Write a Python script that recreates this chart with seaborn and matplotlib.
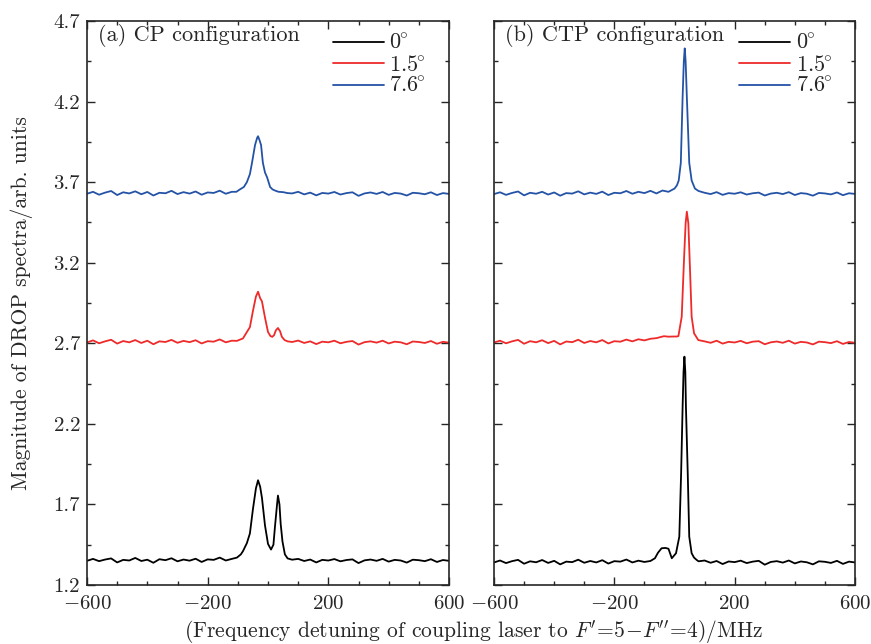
"""
DROP spectra for CP and CTP configurations at three angles
"""
import numpy as np
import pandas as pd
import matplotlib
matplotlib.use('Agg')
import matplotlib.pyplot as plt
import seaborn as sns
from matplotlib.ticker import FixedLocator, MultipleLocator, FormatStrFormatter
from matplotlib.lines import Line2D

sns.set_style('ticks')
plt.rcParams['font.family'] = ['cmr10', 'DejaVu Serif']
plt.rcParams['mathtext.fontset'] = 'cm'
plt.rcParams['axes.formatter.use_mathtext'] = True
plt.rcParams['axes.unicode_minus'] = True

angles = ['$0^{\\!\\!\\circ}$', '$1.5^{\\!\\!\\circ}$', '$7.6^{\\!\\!\\circ}$']
colors = ['#000000', '#ee2a2a', '#2453a6']

# ---------- (a) CP configuration ----------
cp_left_x = list(range(-600, -119, 20))
cp_right_x = list(range(80, 601, 20))

cp0_left = [1.350, 1.362, 1.348, 1.358, 1.365, 1.340, 1.356, 1.352, 1.368, 1.349, 1.357, 1.338, 1.360,
            1.354, 1.366, 1.347, 1.358, 1.351, 1.363, 1.343, 1.359, 1.356, 1.370, 1.352, 1.362]
cp0_peak_x = [-103, -90, -83, -70, -60, -50, -40, -33, -26, -20, -10, 0, 10, 18, 23, 30, 33, 38, 42, 48, 56, 65]
cp0_peak_y = [1.37, 1.39, 1.41, 1.46, 1.52, 1.67, 1.80, 1.85, 1.81, 1.74, 1.57, 1.455, 1.42, 1.45, 1.56,
              1.70, 1.755, 1.70, 1.58, 1.47, 1.39, 1.365]
cp0_right = [1.357, 1.362, 1.349, 1.358, 1.340, 1.356, 1.352, 1.361, 1.347, 1.355, 1.359, 1.336, 1.353, 1.358,
             1.350, 1.362, 1.345, 1.356, 1.352, 1.339, 1.357, 1.354, 1.348, 1.360, 1.343, 1.355, 1.350]

cp15_left = [2.705, 2.718, 2.700, 2.712, 2.722, 2.698, 2.714, 2.706, 2.720, 2.702, 2.716, 2.694, 2.712,
             2.708, 2.721, 2.703, 2.715, 2.707, 2.719, 2.699, 2.713, 2.710, 2.724, 2.706, 2.716]
cp15_peak_x = [-103, -90, -83, -70, -60, -50, -40, -33, -26, -20, -10, 0, 8, 14, 20, 26, 33, 40, 46, 55, 65]
cp15_peak_y = [2.715, 2.725, 2.73, 2.77, 2.80, 2.90, 2.99, 3.02, 2.98, 2.96, 2.86, 2.77, 2.745, 2.74, 2.75,
               2.78, 2.795, 2.775, 2.74, 2.72, 2.712]
cp15_right = [2.708, 2.717, 2.702, 2.712, 2.695, 2.710, 2.706, 2.716, 2.700, 2.709, 2.714, 2.692, 2.707, 2.712,
              2.704, 2.716, 2.699, 2.710, 2.706, 2.694, 2.711, 2.708, 2.702, 2.714, 2.697, 2.709, 2.704]

cp76_left = [3.628, 3.640, 3.622, 3.635, 3.645, 3.620, 3.637, 3.630, 3.643, 3.625, 3.639, 3.617, 3.634,
             3.631, 3.646, 3.626, 3.638, 3.629, 3.642, 3.622, 3.636, 3.633, 3.647, 3.628, 3.640]
cp76_peak_x = [-105, -93, -80, -70, -60, -53, -43, -36, -33, -28, -23, -17, -10, -3, 7, 15, 23, 35, 50, 65]
cp76_peak_y = [3.64, 3.655, 3.67, 3.70, 3.75, 3.82, 3.93, 3.975, 3.985, 3.96, 3.93, 3.82, 3.76, 3.73, 3.67,
               3.655, 3.648, 3.64, 3.638, 3.632]
cp76_right = [3.630, 3.640, 3.624, 3.635, 3.618, 3.633, 3.629, 3.639, 3.623, 3.632, 3.637, 3.615, 3.630, 3.636,
              3.627, 3.639, 3.621, 3.633, 3.629, 3.617, 3.634, 3.631, 3.625, 3.637, 3.620, 3.632, 3.627]

# ---------- (b) CTP configuration ----------
ctp0_left_x = list(range(-600, -79, 20))
ctp0_left = [1.340, 1.352, 1.336, 1.348, 1.356, 1.332, 1.347, 1.341, 1.355, 1.337, 1.350, 1.328, 1.345, 1.342,
             1.357, 1.338, 1.349, 1.340, 1.354, 1.333, 1.348, 1.345, 1.358, 1.340, 1.351, 1.343, 1.349]
ctp0_peak_x = [-65, -55, -43, -30, -20, -9, 5, 16, 22, 27, 30, 33, 36, 38, 44, 49, 57, 65, 74]
ctp0_peak_y = [1.366, 1.40, 1.428, 1.43, 1.425, 1.366, 1.397, 1.50, 1.893, 2.307, 2.52, 2.617, 2.52, 2.307,
               1.893, 1.50, 1.397, 1.37, 1.355]
ctp0_right_x = list(range(80, 601, 20))
ctp0_right = [1.347, 1.352, 1.338, 1.349, 1.330, 1.346, 1.342, 1.351, 1.336, 1.345, 1.350, 1.326, 1.343, 1.348,
              1.339, 1.352, 1.334, 1.346, 1.341, 1.328, 1.347, 1.344, 1.337, 1.350, 1.331, 1.345, 1.340]

ctp15_left_x = list(range(-600, -59, 20))
ctp15_left = [2.705, 2.716, 2.700, 2.712, 2.721, 2.697, 2.713, 2.706, 2.719, 2.701, 2.715, 2.693, 2.711, 2.707,
              2.722, 2.702, 2.714, 2.706, 2.720, 2.699, 2.713, 2.710, 2.723, 2.712, 2.725, 2.718, 2.728, 2.732]
ctp15_peak_x = [-48, -35, -20, -5, 8, 13, 24, 32, 37, 41, 46, 52, 57, 65, 79]
ctp15_peak_y = [2.738, 2.744, 2.741, 2.742, 2.742, 2.745, 2.865, 3.237, 3.445, 3.517, 3.445, 3.134, 2.865,
                2.762, 2.72]
ctp15_right_x = list(range(100, 601, 20))
ctp15_right = [2.712, 2.703, 2.716, 2.698, 2.709, 2.705, 2.715, 2.700, 2.710, 2.713, 2.694, 2.706, 2.711,
               2.703, 2.716, 2.698, 2.709, 2.705, 2.693, 2.710, 2.707, 2.701, 2.713, 2.696, 2.708, 2.703]

ctp76_left_x = list(range(-600, -19, 20))
ctp76_left = [3.626, 3.637, 3.621, 3.633, 3.642, 3.618, 3.634, 3.628, 3.640, 3.623, 3.636, 3.616, 3.632, 3.629,
              3.643, 3.624, 3.635, 3.627, 3.641, 3.620, 3.634, 3.631, 3.645, 3.628, 3.640, 3.632, 3.646, 3.630,
              3.648, 3.640]
ctp76_peak_x = [0, 8, 14, 21, 27, 31, 34, 37, 41, 49, 57, 68, 80]
ctp76_peak_y = [3.66, 3.68, 3.71, 3.82, 4.23, 4.45, 4.53, 4.45, 4.23, 3.82, 3.71, 3.66, 3.645]
ctp76_right_x = list(range(100, 601, 20))
ctp76_right = [3.634, 3.626, 3.638, 3.621, 3.632, 3.628, 3.637, 3.623, 3.631, 3.635, 3.617, 3.629, 3.634,
               3.626, 3.638, 3.620, 3.632, 3.628, 3.616, 3.633, 3.630, 3.624, 3.636, 3.619, 3.631, 3.627]


def series(xl, yl, xp, yp, xr, yr):
    return pd.DataFrame({'x': list(xl) + list(xp) + list(xr),
                         'y': list(yl) + list(yp) + list(yr)})


panel_a = [series(cp_left_x, cp0_left, cp0_peak_x, cp0_peak_y, cp_right_x, cp0_right),
           series(cp_left_x, cp15_left, cp15_peak_x, cp15_peak_y, cp_right_x, cp15_right),
           series(cp_left_x, cp76_left, cp76_peak_x, cp76_peak_y, cp_right_x, cp76_right)]
panel_b = [series(ctp0_left_x, ctp0_left, ctp0_peak_x, ctp0_peak_y, ctp0_right_x, ctp0_right),
           series(ctp15_left_x, ctp15_left, ctp15_peak_x, ctp15_peak_y, ctp15_right_x, ctp15_right),
           series(ctp76_left_x, ctp76_left, ctp76_peak_x, ctp76_peak_y, ctp76_right_x, ctp76_right)]

FS = 16
TICK_FS = 15

fig = plt.figure(figsize=(8.71, 6.44), dpi=100)
ax1 = fig.add_axes([87 / 871, 59 / 644, 362 / 871, 564 / 644])
ax2 = fig.add_axes([494 / 871, 59 / 644, 361 / 871, 564 / 644])

for ax, dfs, title in [(ax1, panel_a, '(a) CP configuration'),
                       (ax2, panel_b, '(b) CTP configuration')]:
    for df, c in zip(dfs, colors):
        sns.lineplot(data=df, x='x', y='y', color=c, lw=1.3, sort=False, estimator=None, ax=ax)
    ax.set_xlim(-600, 600)
    ax.set_ylim(1.2, 4.7)
    ax.xaxis.set_major_locator(FixedLocator([-600, -200, 200, 600]))
    ax.xaxis.set_minor_locator(MultipleLocator(100))
    ax.yaxis.set_major_locator(FixedLocator(np.arange(1.2, 4.71, 0.5)))
    ax.yaxis.set_minor_locator(FixedLocator(np.arange(1.45, 4.7, 0.5)))
    ax.yaxis.set_major_formatter(FormatStrFormatter('%.1f'))
    ax.tick_params(which='both', direction='in', top=True, right=True, labelsize=TICK_FS, width=1.0)
    ax.tick_params(which='major', length=6)
    ax.tick_params(which='minor', length=3)
    ax.tick_params(axis='x', pad=7)
    ax.tick_params(axis='y', pad=5)
    for s in ax.spines.values():
        s.set_linewidth(1.2)
    ax.set_xlabel('')
    ax.set_ylabel('')
    ax.text(0.03, 0.995, title, transform=ax.transAxes, ha='left', va='top', fontsize=FS)
    handles = [Line2D([], [], color=c, lw=1.3) for c in colors]
    ax.legend(handles, angles, loc='upper left', bbox_to_anchor=(0.636, 1.005), frameon=False,
              fontsize=FS, handlelength=2.3, handletextpad=0.25, labelspacing=0.08,
              borderaxespad=0.3)

ax2.tick_params(labelleft=False)
ax1.set_ylabel('Magnitude of DROP spectra/arb. units', fontsize=15.5)
ax1.yaxis.set_label_coords(-0.15, 0.5)
fig.text(473 / 871, 1 - 632 / 644,
         "(Frequency detuning of coupling laser to $F'\\!=\\!5\\!-\\!F''\\!=\\!4$)/MHz",
         ha='center', va='center', fontsize=15.5)

plt.savefig('out.png', dpi=100)
plt.close()
